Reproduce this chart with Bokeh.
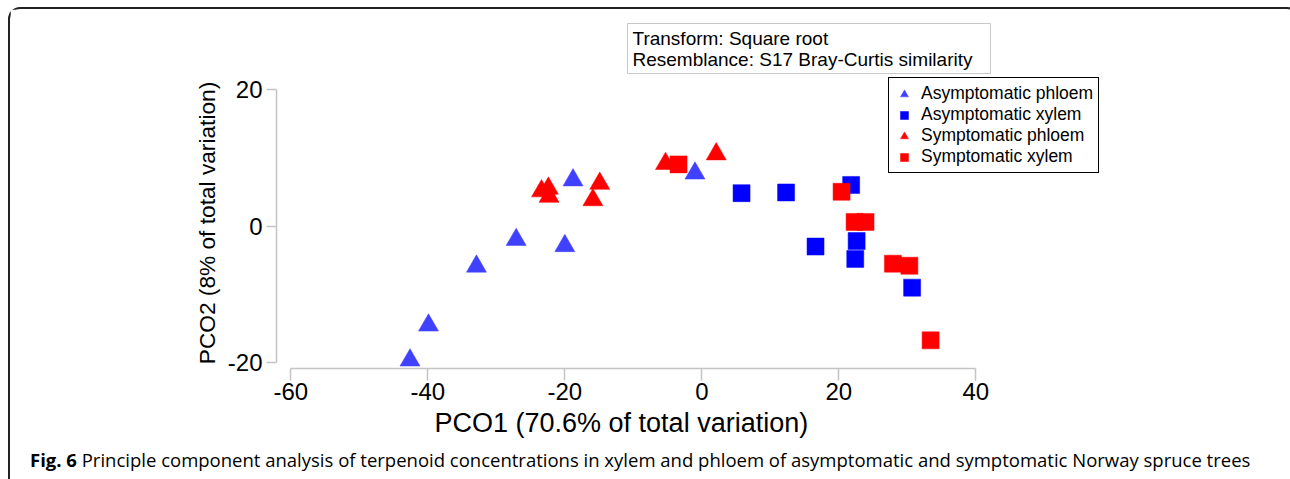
from bokeh.plotting import figure
from bokeh.models import Range1d, FixedTicker, Legend, LegendItem, Title, Div
from bokeh.layouts import column
from bokeh.embed import file_html
from bokeh.resources import INLINE

# ---- data ----
asym_phloem_x = [-42.6, -39.9, -32.9, -27.1, -20.0, -18.8, -1.0]
asym_phloem_y = [-19.6, -14.5, -5.9, -2.0, -2.9, 6.7, 7.7]
asym_xylem_x = [5.8, 12.3, 21.8, 22.6, 16.6, 22.4, 30.7]
asym_xylem_y = [4.8, 4.9, 6.0, -2.2, -3.0, -4.8, -9.0]
sym_phloem_x = [-23.4, -22.4, -22.3, -14.9, -15.9, -5.3, 2.1]
sym_phloem_y = [5.1, 5.5, 4.3, 6.2, 3.8, 9.1, 10.5]
sym_xylem_x = [-3.4, 20.4, 22.3, 23.9, 27.9, 30.3, 33.4]
sym_xylem_y = [9.0, 5.0, 0.6, 0.6, -5.5, -5.8, -16.7]

series_labels = ["Asymptomatic phloem", "Asymptomatic xylem",
                 "Symptomatic phloem", "Symptomatic xylem"]
x_ticks = [-60, -40, -20, 0, 20, 40]
y_ticks = [-20, 0, 20]
x_title = "PCO1 (70.6% of total variation)"
y_title = "PCO2 (8% of total variation)"
info_text = "Transform: Square root\nResemblance: S17 Bray-Curtis similarity"
caption_bold = "Fig. 6"
caption_rest = ("Principle component analysis of terpenoid concentrations in xylem "
                "and phloem of asymptomatic and symptomatic Norway spruce trees")

FONT = "Liberation Sans"
W = 1277

# ---------------- main plot ----------------
p = figure(width=W, height=435, output_backend="svg", toolbar_location=None,
           title=None,
           x_range=Range1d(-62.09, 59.66), y_range=Range1d(-20.81, 21.69))
p.min_border_left = 266
p.min_border_right = 177
p.min_border_top = 68
p.min_border_bottom = 75
p.outline_line_color = None
p.grid.visible = False
p.background_fill_color = "white"
p.border_fill_color = "white"

r1 = p.scatter(asym_phloem_x, asym_phloem_y, marker="triangle", size=20,
               fill_color="#4040ff", line_color="#4040ff", line_width=0.5)
r2 = p.scatter(asym_xylem_x, asym_xylem_y, marker="square", size=17,
               fill_color="#0000ff", line_color="#0000ff", line_width=0.5)
r3 = p.scatter(sym_phloem_x, sym_phloem_y, marker="triangle", size=20,
               fill_color="#ff0000", line_color="#ff0000", line_width=0.5)
r4 = p.scatter(sym_xylem_x, sym_xylem_y, marker="square", size=17,
               fill_color="#ff0000", line_color="#ff0000", line_width=0.5)

axis_grey = "#c4c4c4"
for ax, ticks, bounds in ((p.xaxis[0], x_ticks, (-60, 40)),
                          (p.yaxis[0], y_ticks, (-20, 20))):
    ax.bounds = bounds
    ax.ticker = FixedTicker(ticks=ticks)
    ax.major_label_overrides = {t: str(t) for t in ticks}
    ax.minor_tick_line_color = None
    ax.major_tick_in = 0
    ax.axis_line_color = axis_grey
    ax.axis_line_width = 1.5
    ax.major_tick_line_color = axis_grey
    ax.major_tick_line_width = 1.5
    ax.major_label_text_font = FONT
    ax.major_label_text_font_size = "24px"
    ax.major_label_text_color = "black"

p.xaxis.major_tick_out = 12
p.xaxis.major_label_standoff = 2
p.yaxis.major_tick_out = 10
p.yaxis.major_label_standoff = 4
p.yaxis.axis_label = y_title
p.yaxis.axis_label_text_font = FONT
p.yaxis.axis_label_text_font_style = "normal"
p.yaxis.axis_label_text_color = "black"
p.yaxis.axis_label_text_font_size = "22.7px"
p.yaxis.axis_label_standoff = 5

legend = Legend(items=[LegendItem(label=lab, renderers=[r])
                       for lab, r in zip(series_labels, [r1, r2, r3, r4])],
                location=(612, 195))
legend.border_line_color = "black"
legend.border_line_alpha = 1
legend.border_line_width = 1
legend.padding = 5
legend.margin = 0
legend.spacing = 0
legend.glyph_height = 20
legend.glyph_width = 20
legend.label_height = 20
legend.label_standoff = 7
legend.label_text_font = FONT
legend.label_text_font_size = "17.5px"
legend.label_text_color = "black"
legend.background_fill_alpha = 1
p.add_layout(legend)

info = Title(text=info_text, align="left", offset=351, standoff=8,
             text_font=FONT, text_font_size="19px", text_font_style="normal",
             text_color="black", background_fill_color="white",
             border_line_color="#c8c8c8", border_line_width=1,
             padding=dict(left=5, right=18, top=4, bottom=4))
p.add_layout(info, "above")

xt = Title(text=x_title, align="left", offset=158, standoff=10,
           vertical_align="top", text_font=FONT, text_font_size="27px",
           text_font_style="normal", text_color="black")
p.add_layout(xt, "below")

# ---------------- caption ----------------
caption_html = (
    '<div style="font-family:\'Open Sans\'; font-size:18.5px; line-height:1.2; '
    'padding:0 0 0 15px; margin:0; text-align:left; white-space:nowrap; color:#000;">'
    f'<b>{caption_bold}</b> {caption_rest}</div>'
)
cap = Div(text=caption_html, width=W, height=31)

layout = column(p, cap, spacing=0)
layout.styles = {"margin-left": "8px", "margin-top": "7px",
                 "border-left": "2px solid #222222",
                 "border-top": "2px solid #222222",
                 "border-right": "2px solid #222222",
                 "border-top-left-radius": "12px",
                 "border-top-right-radius": "12px"}

open("out.html", "w").write(file_html(layout, INLINE))
